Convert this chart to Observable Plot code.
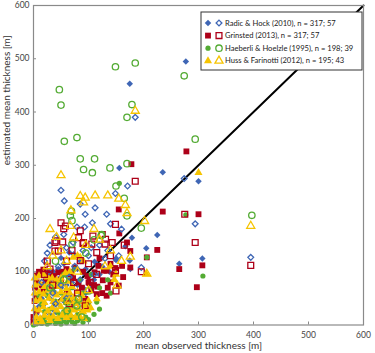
<!DOCTYPE html>
<html>
<head>
<meta charset="utf-8">
<script src="https://cdn.jsdelivr.net/npm/d3@7"></script>
<script src="https://cdn.jsdelivr.net/npm/@observablehq/plot@0.6"></script>
<style>
  html, body { margin: 0; padding: 0; background: #fff; }
  #chart { width: 375px; height: 353px; }
</style>
</head>
<body>
<div id="chart"></div>
<script>
// Axis ticks (metres) and the 1:1 reference line
const xTicks = [0, 100, 200, 300, 400, 500, 600];
const yTicks = [0, 100, 200, 300, 400, 500, 600];
const oneToOne = [0, 600];

// [mean observed thickness, estimated mean thickness] in metres
const radicFilled = [
  [277,495],[175,453],[235,287],[300,270],[156,295],[225,169],[179,164],[167,148],[205,144],[307,125],
  [265,115],[150,122],[175,121],[111,119],[50,126],[65,136],[73,133],[36,100],[115,114],[149,124],[176,105],
  [5,20],[10,35],[15,50],[20,60],[25,70],[30,80],[40,85],[50,90],[60,95],[70,100],[80,105],[90,98],[100,90],
  [20,40],[30,50],[40,60],[50,70],[60,75],[70,80],[80,75],[90,70],[35,30],[45,40],[55,45],[65,55],[75,50],
  [85,55],[95,60],[105,75],[110,85],[120,95],[25,90],[45,105],[55,115],[85,120],[95,105],[125,110],[138,100],
  [10,10],[20,15],[30,20],[40,25],[60,30],[70,35],[80,40],[95,40]
];
const radicOpen = [
  [185,390],[274,275],[294,190],[395,127],[196,108],[50,253],[56,233],[149,247],[171,261],[85,227],
  [112,220],[133,208],[94,208],[107,192],[79,184],[93,184],[55,170],[40,165],[30,150],[60,145],[72,155],
  [90,140],[105,145],[120,150],[135,140],[20,120],[25,135],[45,110],[100,130],[130,125],[140,190],[160,180],
  [155,130],[35,60],[50,75],[65,90],[75,110],[15,80],[85,85],[110,95],[60,50],[40,40],[28,100]
];
const grinstedFilled = [
  [278,326],[178,302],[235,213],[300,208],[155,217],[156,172],[170,155],[176,139],[225,141],[206,127],
  [307,112],[265,105],[297,71],[176,108],[161,111],[149,107],[128,102],[133,102],[118,111],[111,99],
  [126,84],[116,72],[155,74],[115,58],[133,55],[94,49],[88,70],[82,80],[61,64],[45,99],[30,99],[33,89],
  [18,64],[6,93],[6,80],[6,27],[0,15],[2,45],[4,55],[3,70],[10,100],[18,104],[25,95],[38,92],[50,85],
  [55,100],[68,95],[72,88],[100,80],[105,65],[140,115],[145,95],[120,125],[0,5],[10,50],[15,75],[22,82],
  [60,105],[75,108],[90,100],[98,92],[110,75],[135,70],[125,60],[140,80],[163,90]
];
const grinstedOpen = [
  [185,270],[275,208],[294,155],[395,112],[196,100],[150,64],[149,189],[108,167],[125,170],[131,161],
  [90,153],[53,156],[39,139],[41,158],[55,181],[50,192],[85,177],[58,186],[45,139],[39,155],[82,164],
  [91,155],[106,152],[130,152],[143,155],[115,136],[85,121],[73,80],[149,102],[94,36],[103,80],[165,150],
  [70,140],[25,120],[30,105],[60,120],[100,115],[35,75],[20,95],[80,60],[65,40],[115,95],[140,130]
];
const haeberliFilled = [
  [277,207],[206,127],[308,92],[156,266],[115,43],[120,30],[100,10],[110,20],
  [0,0],[5,2],[10,4],[15,3],[20,6],[25,2],[30,5],[35,8],[40,3],[45,6],[50,2],[55,8],[60,4],[65,10],
  [70,6],[75,3],[80,8],[85,12],[90,5],[95,15],[40,12],[50,15],[60,18],[70,15],[80,20],[88,25],[30,15],
  [20,12],[10,10],[45,22],[55,25],[65,28],[75,30],[92,35],[100,40],[30,30],[20,25],[15,40],[40,45],
  [60,50],[80,45],[90,60],[70,70],[50,60],[35,65],[25,55],[10,55],[45,80],[65,85],[85,85],[105,95],
  [75,105],[55,95],[120,70],[135,85],[140,60]
];
const haeberliOpen = [
  [50,413],[47,442],[149,485],[185,492],[274,468],[179,414],[170,390],[56,345],[79,352],[85,312],
  [111,312],[91,292],[107,286],[139,295],[170,303],[294,349],[150,261],[165,238],[69,214],[397,206],
  [196,182],[123,168],[170,205],[67,205],[70,196],[124,170],[70,152],[61,27],[79,36],[88,15],[61,43],
  [82,49],[100,64],[40,120],[95,135],[110,160],[30,70],[55,85]
];
const hussFilled = [
  [300,286],[205,96],[147,85],[115,49],[96,33],[72,127],[85,127],[91,120],[80,130],[150,95],[140,110],
  [2,88],[10,92],[18,95],[26,90],[34,88],[42,84],
  [3,75],[12,78],[20,72],[28,80],[36,75],[44,72],[52,76],[60,68],
  [2,60],[10,62],[18,58],[26,65],[34,60],[42,56],[50,62],[58,55],[66,60],[74,52],
  [4,45],[12,48],[20,42],[28,50],[36,44],[44,40],[52,48],[60,42],[68,46],[76,40],[84,44],[92,38],
  [2,30],[10,28],[18,34],[26,26],[34,32],[42,28],[50,34],[58,26],[66,32],[74,28],[82,30],[90,25],[98,28],
  [5,15],[12,12],[20,18],[28,14],[36,16],[44,12],[52,18],[60,14],[68,18],[76,14],[84,16],[92,12],
  [3,5],[15,6],[30,8],
  [50,88],[62,82],[70,72],[80,62],[88,55],[100,45],[104,32],[58,98],[66,100]
];
const hussOpen = [
  [185,402],[50,281],[85,242],[94,239],[112,243],[135,243],[155,237],[167,225],[91,230],[68,215],
  [170,210],[202,195],[395,186],[176,128],[206,96],[152,74],[67,186],[73,164],[30,180],[97,33],
  [42,165],[60,120],[110,180],[120,160],[95,150],[50,140],[130,110],[35,130],[80,100],[25,110],
  [100,65],[65,45],[140,140],[160,120]
];

const seriesNames = [
  "Radic & Hock (2010), n = 317; 57",
  "Grinsted (2013), n = 317; 57",
  "Haeberli & Hoelzle (1995), n = 198; 39",
  "Huss & Farinotti (2012), n = 195; 43"
];
const seriesColors = ["#3f66b5", "#ad0019", "#53ab33", "#f6c400"];

const series = [
  {name: seriesNames[0], color: seriesColors[0], symbol: d3.symbolDiamond2, filled: radicFilled, open: radicOpen, rf: 2.9, ro: 2.6},
  {name: seriesNames[1], color: seriesColors[1], symbol: d3.symbolSquare, filled: grinstedFilled, open: grinstedOpen, rf: 3.3, ro: 3.3},
  {name: seriesNames[2], color: seriesColors[2], symbol: d3.symbolCircle, filled: haeberliFilled, open: haeberliOpen, rf: 2.6, ro: 3.2},
  {name: seriesNames[3], color: seriesColors[3], symbol: d3.symbolTriangle, filled: hussFilled, open: hussOpen, rf: 3.0, ro: 3.0}
];

const filledMarks = series.map(s => Plot.dot(s.filled, {
  x: d => d[0], y: d => d[1], symbol: s.symbol, r: s.rf, fill: s.color, stroke: "none"
}));
const openMarks = series.map(s => Plot.dot(s.open, {
  x: d => d[0], y: d => d[1], symbol: s.symbol, r: s.ro, fill: "none", stroke: s.color, strokeWidth: 1.3
}));

const W = 375, H = 353;
const mLeft = 33, mRight = 12, mTop = 5, mBottom = 28.5;
const innerW = W - mLeft - mRight, innerH = H - mTop - mBottom;
const tickLen = 3;

const chart = Plot.plot({
  width: W,
  height: H,
  marginLeft: mLeft,
  marginRight: mRight,
  marginTop: mTop,
  marginBottom: mBottom,
  x: {domain: [0, 600]},
  y: {domain: [0, 600]},
  style: {fontFamily: "Lato, 'Open Sans', sans-serif", fontSize: "8.5px", color: "#444", background: "#fff"},
  marks: [
    Plot.line(oneToOne, {x: d => d, y: d => d, stroke: "#000", strokeWidth: 2}),
    ...filledMarks,
    ...openMarks,
    Plot.frame({stroke: "#8a8a8a", strokeWidth: 1.2}),
    // short inward ticks on the bottom and left edges
    Plot.tickX(xTicks, {x: d => d, insetTop: innerH - tickLen, stroke: "#8a8a8a"}),
    Plot.tickY(yTicks, {y: d => d, insetRight: innerW - tickLen, stroke: "#8a8a8a"}),
    Plot.axisX({ticks: xTicks, tickSize: 0, tickPadding: 7, label: null}),
    Plot.axisY({ticks: yTicks, tickSize: 0, tickPadding: 4, label: null}),
    Plot.text(["mean observed thickness [m]"], {frameAnchor: "bottom", dy: 23.5, fontSize: 10, fill: "#333"}),
    Plot.text(["estimated mean thickness [m]"], {frameAnchor: "left", dx: -27, rotate: -90, fontSize: 10, fill: "#333"})
  ]
});

// Legend box in the upper right of the plot area
const svg = d3.select(chart);
const legend = svg.append("g").attr("transform", "translate(201,12)");
legend.append("rect")
  .attr("width", 161).attr("height", 58)
  .attr("fill", "#fff").attr("stroke", "#333").attr("stroke-width", 1);
series.forEach((s, i) => {
  const cy = 11 + i * 12.6;
  legend.append("path")
    .attr("transform", `translate(7,${cy})`)
    .attr("d", d3.symbol(s.symbol, Math.PI * s.rf * s.rf)())
    .attr("fill", s.color);
  legend.append("path")
    .attr("transform", `translate(18,${cy})`)
    .attr("d", d3.symbol(s.symbol, Math.PI * s.ro * s.ro)())
    .attr("fill", "none").attr("stroke", s.color).attr("stroke-width", 1.3);
  legend.append("text")
    .attr("x", 24).attr("y", cy).attr("dy", "0.35em")
    .attr("text-anchor", "start")
    .attr("font-size", 7.6).attr("fill", "#222")
    .text(s.name);
});

document.getElementById("chart").appendChild(chart);
</script>
</body>
</html>
